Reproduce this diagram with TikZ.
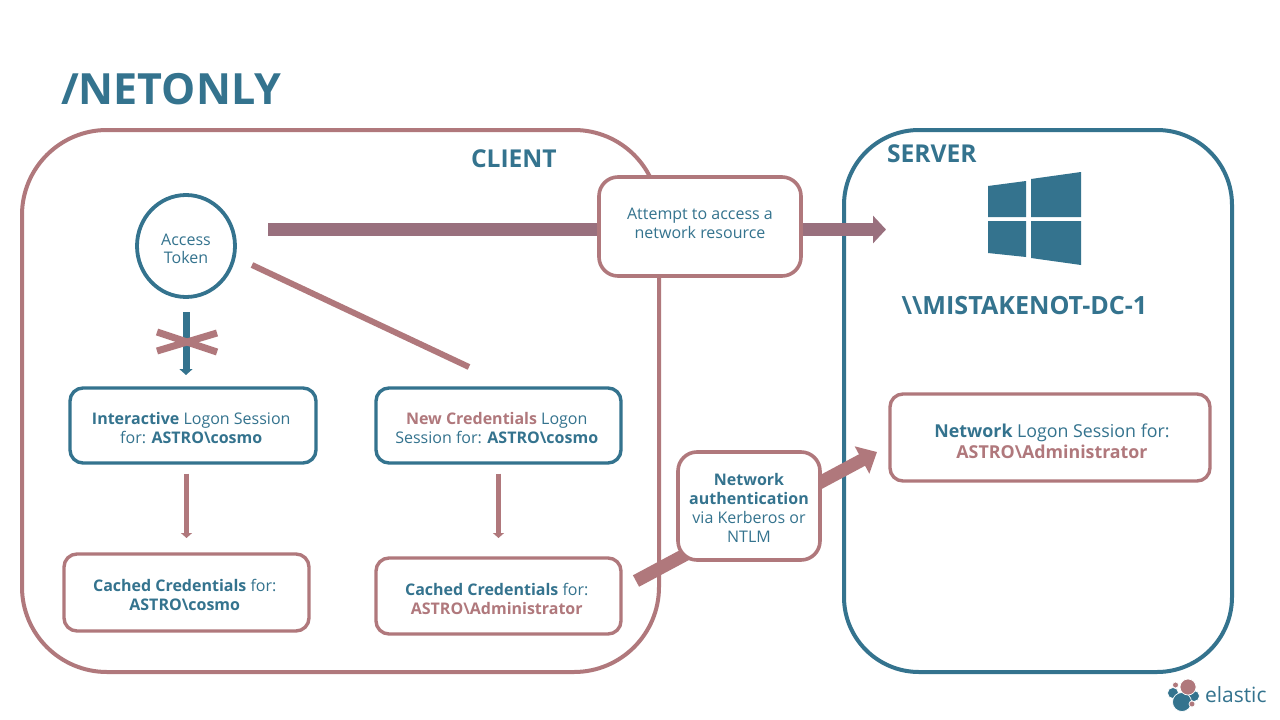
\documentclass[tikz,border=0pt]{standalone}
\usepackage{fontspec}
\setmainfont{Open Sans}
\usetikzlibrary{arrows.meta,shapes.geometric}
\definecolor{eblue}{HTML}{34738E}
\definecolor{epink}{HTML}{B0787C}
\definecolor{emix}{HTML}{99707E}
\newcommand{\fsz}[2]{\fontsize{#1pt}{#2pt}\selectfont}
\newcommand{\bb}[1]{\textbf{\textcolor{eblue}{#1}}}
\newcommand{\bp}[1]{\textbf{\textcolor{epink}{#1}}}
% struts that move a centred text block: \dn{n} on the first line moves it down n/2, \upw{n} on the last moves it up n/2
\newcommand{\dn}[1]{\rule{0pt}{\dimexpr 14pt+#1pt\relax}}
\newcommand{\upw}[1]{\rule[-\dimexpr 5pt+#1pt\relax]{0pt}{1pt}}
% trailing space that moves a centred line sideways
\newcommand{\rs}{\hspace*{3.5pt}}
\newcommand{\ls}{\hspace*{4pt}}
\pgfdeclarelayer{front}
\pgfsetlayers{main,front}
\tikzset{
  x=1pt,y=-1pt,
  every node/.style={inner sep=0pt,outer sep=0pt,text=eblue},
  region/.style={draw,line width=4pt,rounded corners=#1,fill=none},
  card/.style={draw=#1,line width=3.4pt,rounded corners=13pt,fill=white,align=center,
     font=\fsz{16}{19}},
  callout/.style={draw=epink,line width=3.6pt,rounded corners=19pt,fill=white,align=center,
     font=\fsz{16}{18.8}},
  head/.style={font=\fsz{24.6}{27}\bfseries},
  thinarrow/.style={draw=epink,line width=5.5pt,-{Triangle[length=5pt,width=11pt]}},
  bar/.style={line width=13pt},
  winpane/.style={fill=eblue,draw=none},
  logodot/.style={draw=white,line width=0.7pt},
}
\begin{document}
\begin{tikzpicture}
\useasboundingbox (0,0) rectangle (1280,720);
\fill[white] (0,0) rectangle (1280,720);
\node[anchor=west,font=\fsz{43}{46}\bfseries] (title) at (61,89) {/NETONLY};

% regions
\node[region=85pt,draw=epink,minimum width=637pt,minimum height=542pt] (client) at (340.5,401) {};
\node[region=75pt,draw=eblue,minimum width=388pt,minimum height=542pt] (server) at (1038,401) {};
\node[head,anchor=west] (clientlabel) at (471,159) {CLIENT};
\node[head,anchor=west] (serverlabel) at (887,154) {SERVER};
\node[font=\fsz{25.1}{27}\bfseries] (dc) at (1024.5,305.5) {\textbackslash\textbackslash MISTAKENOT-DC-1};

% front nodes
\begin{pgfonlayer}{front}
\node[callout,minimum width=202pt,minimum height=99pt] (attempt) at (700,226.5) {Attempt to access a\\network resource\upw{2}};
\node[callout,minimum width=142pt,minimum height=108pt] (auth) at (749,506) {\dn{2}\bb{Network}\\\bb{authentication}\\via Kerberos or\\NTLM};
\end{pgfonlayer}

% token and cards
\node[draw=eblue,line width=3.8pt,ellipse,minimum width=98pt,minimum height=102pt,font=\fsz{16}{18},align=center] (token) at (186,246) {\dn{4}Access\\Token};
\node[card=eblue,minimum width=246pt,minimum height=75pt] (inter) at (193,425.5) {\dn{3}\bb{Interactive} Logon Session\rs\\for: \bb{ASTRO\textbackslash cosmo}\rs};
\node[card=eblue,minimum width=245pt,minimum height=75pt] (newcred) at (498.5,425.5) {\dn{3}\bp{New Credentials} Logon\rs\\Session for: \bb{ASTRO\textbackslash cosmo}\rs};
\node[card=epink,minimum width=245pt,minimum height=77pt] (cache1) at (186.5,592.5) {\dn{4}\bb{Cached Credentials} for:\rs\\\bb{ASTRO\textbackslash cosmo}\rs};
\node[card=epink,minimum width=245pt,minimum height=76pt] (cache2) at (498.5,596) {\dn{4}\bb{Cached Credentials} for:\rs\\\bp{ASTRO\textbackslash Administrator}\rs};
\node[card=epink,minimum width=320pt,minimum height=87pt,font=\fsz{17.8}{21}] (netlogon) at (1050,437.5) {\dn{8}\ls\bb{Network} Logon Session for:\\\ls\bp{ASTRO\textbackslash Administrator}};

% connector end points
\coordinate (barstart) at (268,229.5);
\coordinate (barend) at (886,229.5);
\coordinate (diagstart) at (252,265);
\coordinate (diagend) at (469,367);
\coordinate (netstart) at (636,581);
\coordinate (netend) at (877,452);
\coordinate (xa) at (157,332);
\coordinate (xb) at (217,352);
\coordinate (xc) at (157,351);
\coordinate (xd) at (217,333);

% connectors
\draw[emix,bar] (barstart) -- (barstart -| attempt.west);
\draw[emix,bar,-{Triangle[length=13pt,width=27pt]}] (barstart -| attempt.east) -- (barend);
\draw[epink,line width=6pt] (diagstart) -- (diagend);
\draw[eblue,line width=7pt,-{Triangle[length=6pt,width=13pt]},shorten <=15pt,shorten >=13pt] (token.south) -- (inter.north -| token.south);
\draw[epink,line width=7pt] (xa) -- (xb);
\draw[epink,line width=7pt] (xc) -- (xd);
\draw[thinarrow,shorten <=10.5pt,shorten >=16pt] (inter.south -| cache1.north) -- (cache1.north);
\draw[thinarrow,shorten <=10.5pt,shorten >=20pt] (newcred.south) -- (cache2.north);
\draw[epink,bar,-{Triangle[length=17pt,width=30pt]}] (netstart) -- (netend);

% Windows logo
\fill[winpane] (988,186) -- (1026,181) -- (1026,217) -- (988,217) -- cycle;
\fill[winpane] (1031,179) -- (1081,172) -- (1081,217) -- (1031,217) -- cycle;
\fill[winpane] (988,221) -- (1026,221) -- (1026,257) -- (988,253) -- cycle;
\fill[winpane] (1031,221) -- (1081,221) -- (1081,265) -- (1031,258) -- cycle;

% elastic logo
\fill[eblue,logodot] (1173,693) circle (5.5);
\fill[eblue,logodot] (1194,696) circle (5.5);
\fill[eblue,logodot] (1182,702) circle (9.5);
\fill[epink,logodot] (1188,687) circle (8);
\fill[epink,logodot] (1175.5,685) circle (3);
\fill[epink,logodot] (1192,704) circle (3);
\node[anchor=west,font=\fsz{21}{24}] (elastic) at (1205,695) {elastic};
\end{tikzpicture}
\end{document}
